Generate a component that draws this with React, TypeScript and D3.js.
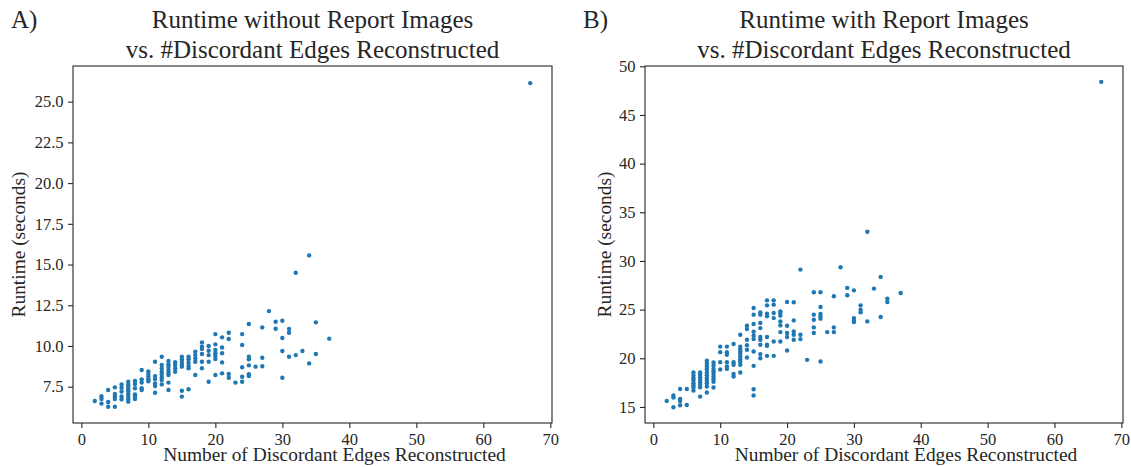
import React, { useEffect, useRef } from "react";
import * as d3 from "d3";

// number of discordant edges reconstructed (shared by both panels)
const edgeCounts = [2, 3, 4, 5, 6, 7, 8, 9, 10, 11, 12, 13, 14, 15, 16, 17, 18, 19, 20, 21, 22, 23, 24, 25, 26, 27, 28, 29, 30, 31, 32, 33, 34, 35, 37, 67];

// runtime (s) without report images, one list per edge count
const runtimeNoImages = [
	[6.62],
	[6.91, 6.74, 6.46],
	[7.3, 6.56, 6.27],
	[7.46, 7.05, 6.9, 6.74, 6.27],
	[7.64, 7.44, 7.2, 6.9, 6.72],
	[7.8, 7.64, 7.5, 7.34, 7.2, 7.03, 6.87, 6.72, 6.58],
	[7.85, 7.66, 7.4, 7.03, 6.9, 6.74],
	[8.52, 7.95, 7.75, 7.4, 7.3],
	[8.44, 8.28, 8.11, 7.95, 7.83],
	[9.03, 8.15, 7.97, 7.7, 7.54, 7.13],
	[9.34, 8.83, 8.63, 8.42, 8.26, 8.07, 7.91, 7.64],
	[9.08, 8.87, 8.73, 8.52, 8.36, 8.22, 7.75, 7.3],
	[9.0, 8.83, 8.63, 8.42],
	[9.34, 9.18, 9.03, 8.87, 8.73, 7.25, 6.89],
	[9.34, 9.18, 8.97, 8.77, 8.63, 7.34],
	[9.65, 9.44, 9.24, 9.03, 8.22],
	[10.22, 9.96, 9.82, 9.51, 9.03, 8.63],
	[10.0, 9.71, 9.44, 9.03, 7.8],
	[10.73, 10.1, 9.75, 9.55, 9.38, 9.2, 8.22],
	[10.53, 9.91, 9.55, 8.99, 8.32],
	[10.81, 10.43, 8.28, 8.05],
	[7.75],
	[10.73, 10.06, 8.69, 8.11, 7.8],
	[11.35, 9.34, 9.18, 8.81, 8.26, 8.15],
	[8.73],
	[11.14, 9.28, 8.75],
	[12.14],
	[11.49, 11.06],
	[11.55, 10.49, 9.69, 8.05],
	[11.04, 10.81, 9.34],
	[14.5, 9.44],
	[9.69],
	[15.56, 8.93],
	[11.45, 9.51],
	[10.45],
	[26.14],
];

// runtime (s) with report images, one list per edge count
const runtimeWithImages = [
	[15.62],
	[16.17, 15.96, 14.97],
	[16.85, 15.82, 15.62, 15.17],
	[16.85, 15.2],
	[18.54, 18.23, 17.95, 17.71, 17.44, 17.23, 16.99, 16.68],
	[18.54, 18.3, 18.06, 17.78, 17.5, 17.27, 17.03, 16.06],
	[19.74, 19.43, 19.16, 18.88, 18.54, 18.26, 17.95, 17.68, 17.44, 17.1, 16.48],
	[19.57, 19.26, 18.91, 18.64, 18.4, 18.13, 17.85, 17.58, 16.99],
	[21.2, 20.63, 19.6, 18.85],
	[21.2, 20.63, 20.35, 19.6, 19.16, 18.91],
	[21.46, 19.6, 19.33, 18.4, 18.13],
	[22.42, 21.2, 20.94, 20.7, 20.46, 20.19, 19.91, 19.67, 19.33, 18.54],
	[23.34, 23.0, 21.9, 21.35, 20.87, 20.08],
	[25.17, 24.48, 23.52, 22.73, 22.32, 21.97, 20.7, 19.22, 16.82, 16.17],
	[24.72, 24.48, 23.62, 23.1, 22.18, 21.9, 21.39, 20.43, 20.01],
	[25.95, 25.44, 24.58, 24.31, 22.18, 21.39, 21.28, 20.25],
	[25.95, 25.51, 24.65, 24.13, 21.73, 20.25],
	[24.82, 24.65, 24.38, 23.79, 23.38, 22.69, 21.73],
	[25.78, 23.34, 22.59, 22.18, 20.8],
	[25.75, 23.89, 22.76, 22.42, 21.9],
	[29.11, 22.42, 21.97],
	[19.84],
	[26.78, 24.48, 23.96, 23.17, 22.59],
	[26.78, 25.27, 24.55, 24.31, 24.07, 19.67],
	[22.69],
	[26.37, 23.17, 22.69],
	[29.35],
	[27.23, 26.47],
	[26.98, 24.13, 23.86, 23.72],
	[25.44, 24.99, 24.72],
	[33.0, 23.79],
	[27.16],
	[28.36, 24.24],
	[26.13, 25.78],
	[26.71],
	[48.4],
];

const xTicks = [0, 10, 20, 30, 40, 50, 60, 70];
const yTicksA = [7.5, 10, 12.5, 15, 17.5, 20, 22.5, 25];
const yTicksB = [15, 20, 25, 30, 35, 40, 45, 50];

const FONT = "'Liberation Serif', 'DejaVu Serif', 'Times New Roman', serif";
const INK = "#262626";
const DOT = "#1f77b4";

type PanelProps = {
	letter: string;
	title: string[];
	runtimes: number[][];
	yDomain: [number, number];
	yTicks: number[];
	yFormat: string;
	left: number;
	right: number;
	top: number;
	bottom: number;
	yLabelX: number;
};

function Panel( props: PanelProps ) {

	const ref = useRef<SVGGElement>( null );

	useEffect( () => {

		const g = d3.select( ref.current );
		g.selectAll( "*" ).remove();

		const { left, right, top, bottom } = props;

		const x = d3.scaleLinear().domain( [ -1.25, 70.25 ] ).range( [ left, right ] );
		const y = d3.scaleLinear().domain( props.yDomain ).range( [ bottom, top ] );

		const points = edgeCounts.flatMap( ( e, i ) => props.runtimes[ i ].map( r => ( { e, r } ) ) );

		g.selectAll( "circle" )
			.data( points )
			.enter().append( "circle" )
				.attr( "cx", d => x( d.e ) )
				.attr( "cy", d => y( d.r ) )
				.attr( "r", 2.2 )
				.attr( "fill", DOT );

		const xAxis = g.append( "g" )
			.attr( "transform", "translate(0," + bottom + ")" )
			.call( d3.axisBottom( x ).tickValues( xTicks ).tickSize( 5 ).tickPadding( 5 ).tickFormat( d3.format( "d" ) ) );

		const yAxis = g.append( "g" )
			.attr( "transform", "translate(" + left + ",0)" )
			.call( d3.axisLeft( y ).tickValues( props.yTicks ).tickSize( 5 ).tickPadding( 4.5 ).tickFormat( d3.format( props.yFormat ) ) );

		[ xAxis, yAxis ].forEach( a => {
			a.select( ".domain" ).remove();
			a.attr( "font-family", FONT ).attr( "font-size", 16.5 );
			a.selectAll( "line" ).attr( "stroke", INK ).attr( "stroke-width", 1.1 );
			a.selectAll( "text" ).attr( "fill", INK );
		});

		// frame
		g.append( "rect" )
			.attr( "x", left )
			.attr( "y", top )
			.attr( "width", right - left )
			.attr( "height", bottom - top )
			.attr( "fill", "none" )
			.attr( "stroke", INK )
			.attr( "stroke-width", 1.1 );

		const cx = ( left + right ) / 2;

		g.append( "text" )
			.attr( "x", cx + 22 )
			.attr( "y", 461 )
			.attr( "text-anchor", "middle" )
			.attr( "font-family", FONT )
			.attr( "font-size", 19.4 )
			.attr( "fill", INK )
			.text( "Number of Discordant Edges Reconstructed" );

		g.append( "text" )
			.attr( "transform", "translate(" + props.yLabelX + "," + ( top + bottom ) / 2 + ") rotate(-90)" )
			.attr( "text-anchor", "middle" )
			.attr( "font-family", FONT )
			.attr( "font-size", 19.4 )
			.attr( "fill", INK )
			.text( "Runtime (seconds)" );

		props.title.forEach( ( line, i ) => {
			g.append( "text" )
				.attr( "x", cx )
				.attr( "y", top - 38.5 + i * 30 )
				.attr( "text-anchor", "middle" )
				.attr( "font-family", FONT )
				.attr( "font-size", 25 )
				.attr( "fill", INK )
				.text( line );
		});

		g.append( "text" )
			.attr( "x", left - 62 )
			.attr( "y", 28 )
			.attr( "font-family", FONT )
			.attr( "font-size", 25 )
			.attr( "fill", INK )
			.text( props.letter );

	}, [ props ] );

	return <g ref={ ref } />;
}

export default function App() {
	return (
		<svg width={ 1131 } height={ 467 } style={ { position: "absolute", left: 0, top: 0, background: "#fff" } }>
			<Panel
				letter="A)"
				title={ [ "Runtime without Report Images", "vs. #Discordant Edges Reconstructed" ] }
				runtimes={ runtimeNoImages }
				yDomain={ [ 5.27, 27.19 ] }
				yTicks={ yTicksA }
				yFormat=".1f"
				left={ 73 } right={ 552 } top={ 66 } bottom={ 423 }
				yLabelX={ 25 }
			/>
			<Panel
				letter="B)"
				title={ [ "Runtime with Report Images", "vs. #Discordant Edges Reconstructed" ] }
				runtimes={ runtimeWithImages }
				yDomain={ [ 13.35, 50.03 ] }
				yTicks={ yTicksB }
				yFormat="d"
				left={ 645 } right={ 1123 } top={ 66 } bottom={ 423 }
				yLabelX={ 611 }
			/>
		</svg>
	);
}
